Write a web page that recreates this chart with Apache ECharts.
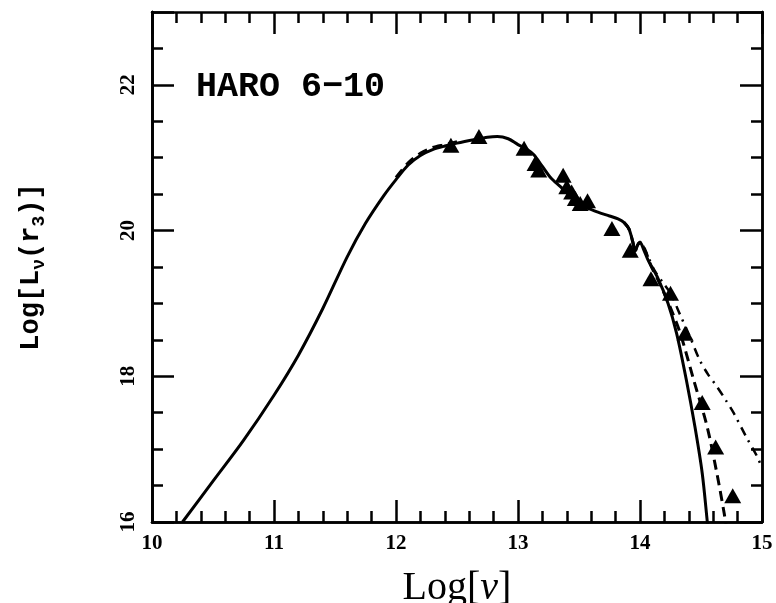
<!DOCTYPE html>
<html>
<head>
<meta charset="utf-8">
<script src="https://cdn.jsdelivr.net/npm/echarts@6/dist/echarts.min.js"></script>
<style>html,body{margin:0;padding:0;background:#fff}#c{width:776px;height:603px}</style>
</head>
<body>
<div id="c"></div>
<script>
// tick labels
var xTicks = [10, 11, 12, 13, 14, 15];
var yTicks = [16, 18, 20, 22];

// Solid model curve [log nu, log L]
var solidCurve = [
  [10.25,16.0],[10.5,16.56],[10.75,17.12],[11.0,17.74],[11.2,18.29],[11.4,18.93],
  [11.6,19.64],[11.75,20.10],[11.9,20.48],[12.0,20.70],[12.1,20.90],[12.2,21.03],
  [12.3,21.11],[12.4,21.16],[12.5,21.20],[12.65,21.25],[12.75,21.28],[12.83,21.29],
  [12.92,21.26],[13.0,21.18],[13.07,21.12],[13.13,21.04],[13.2,20.88],[13.27,20.72],
  [13.35,20.60],[13.43,20.47],[13.5,20.37],[13.58,20.30],[13.66,20.25],[13.75,20.20],
  [13.82,20.16],[13.87,20.11],[13.91,20.02],[13.94,19.85],[13.96,19.72],[13.98,19.80],
  [14.0,19.84],[14.03,19.74],[14.07,19.58],[14.14,19.37],[14.23,19.0],[14.30,18.59],
  [14.38,17.95],[14.45,17.31],[14.51,16.67],[14.55,16.03],[14.56,15.85]
];

// Dashed model curve (two visible stretches)
var dashedCurveA = [
  [12.0,20.73],[12.1,20.93],[12.2,21.06],[12.3,21.14],[12.4,21.18],[12.5,21.22]
];
var dashedCurveB = [
  [13.87,20.11],[13.91,20.02],[13.94,19.85],[13.96,19.72],[13.98,19.80],[14.0,19.84],
  [14.04,19.74],[14.09,19.52],[14.16,19.28],[14.24,18.98],[14.33,18.59],[14.44,17.95],
  [14.55,17.31],[14.63,16.67],[14.69,16.12],[14.71,15.90]
];

// Dash-dot model curve
var dashDotCurve = [
  [13.87,20.11],[13.91,20.02],[13.94,19.85],[13.96,19.72],[13.98,19.80],[14.0,19.84],
  [14.05,19.70],[14.12,19.45],[14.19,19.28],[14.25,19.14],[14.33,18.84],[14.41,18.54],
  [14.49,18.22],[14.56,18.02],[14.63,17.86],[14.70,17.68],[14.77,17.49],[14.87,17.17],
  [14.96,16.90],[15.0,16.74]
];

// Observed photometry (triangles)
var observed = [
  [12.45,21.17],[12.68,21.29],[13.05,21.13],[13.14,20.92],[13.17,20.83],[13.37,20.76],
  [13.40,20.60],[13.44,20.53],[13.47,20.44],[13.51,20.37],[13.57,20.41],[13.77,20.03],
  [13.92,19.73],[14.09,19.34],[14.25,19.14],[14.37,18.59],[14.51,17.64],[14.62,17.03],[14.76,16.36]
];

var SERIF = 'Liberation Serif';
var MONO = 'Liberation Mono';
var tickStyle = {color: '#000', width: 2.5};
var axLine = {show: true, onZero: false, lineStyle: {color: '#000', width: 2.5}};

function xTickAx(pos) {
  return {
    type: 'value', position: pos, min: xTicks[0], max: xTicks[xTicks.length - 1], interval: 1,
    axisLine: axLine,
    axisTick: {show: true, inside: true, length: 22, lineStyle: tickStyle},
    minorTick: {show: true, splitNumber: 5, length: 11, lineStyle: tickStyle},
    splitLine: {show: false}, minorSplitLine: {show: false},
    axisLabel: {show: false}
  };
}
function yTickAx(pos, interval, len) {
  return {
    type: 'value', position: pos, min: 16, max: 23, interval: interval,
    axisLine: axLine,
    axisTick: {show: true, inside: true, length: len, lineStyle: tickStyle},
    splitLine: {show: false},
    axisLabel: {show: false}
  };
}

var xLabelAxis = {
  type: 'value', position: 'bottom', min: xTicks[0], max: xTicks[xTicks.length - 1], interval: 1,
  axisLine: axLine, axisTick: {show: false}, splitLine: {show: false},
  axisLabel: {show: true, margin: 11, color: '#000', fontFamily: SERIF, fontWeight: 'bold', fontSize: 21},
  name: '{a|Log[}{i|ν}{a|]}',
  nameLocation: 'middle', nameGap: 46,
  nameTextStyle: {rich: {
    a: {fontFamily: SERIF, fontSize: 40, color: '#000'},
    i: {fontFamily: SERIF, fontSize: 40, fontStyle: 'italic', color: '#000'}
  }}
};
var yLabelAxis = {
  type: 'value', position: 'left', min: 16, max: 23, interval: 2,
  axisLine: axLine, axisTick: {show: false}, splitLine: {show: false},
  axisLabel: {
    show: true, rotate: 90, margin: 13, color: '#000', fontFamily: SERIF, fontWeight: 'bold', fontSize: 21,
    formatter: function (v) { return yTicks.indexOf(v) >= 0 ? String(v) : ''; }
  },
  name: '{a|Log[L}{s|ν}{a|(r}{s|3}{a|)]}',
  nameLocation: 'middle', nameRotate: 90, nameGap: 104,
  nameTextStyle: {rich: {
    a: {fontFamily: MONO, fontWeight: 'bold', fontSize: 27, color: '#000', lineHeight: 34, verticalAlign: 'middle'},
    s: {fontFamily: MONO, fontWeight: 'bold', fontSize: 18, color: '#000', lineHeight: 18, verticalAlign: 'bottom'}
  }}
};

var chart = echarts.init(document.getElementById('c'));
chart.setOption({
  backgroundColor: '#fff',
  animation: false,
  grid: {left: 152, top: 12, width: 610, height: 510, containLabel: false, outerBoundsMode: 'none'},
  xAxis: [xLabelAxis, xTickAx('bottom'), xTickAx('top')],
  yAxis: [yLabelAxis, yTickAx('left', 2, 22), yTickAx('left', 0.5, 11), yTickAx('right', 2, 22), yTickAx('right', 0.5, 11)],
  graphic: [{
    type: 'text', left: 196, top: 70,
    style: {text: 'HARO 6\u221210', fontFamily: MONO, fontWeight: 'bold', fontSize: 35, fill: '#000'}
  }],
  series: [
    {type: 'line', data: solidCurve, showSymbol: false, smooth: 0.3, clip: true,
     lineStyle: {color: '#000', width: 3}},
    {type: 'line', data: dashedCurveA, showSymbol: false, smooth: 0.3, clip: true,
     lineStyle: {color: '#000', width: 3, type: [10, 6]}},
    {type: 'line', data: dashedCurveB, showSymbol: false, smooth: 0.3, clip: true,
     lineStyle: {color: '#000', width: 3, type: [10, 6]}},
    {type: 'line', data: dashDotCurve, showSymbol: false, smooth: 0.3, clip: true,
     lineStyle: {color: '#000', width: 2.5, type: [9, 6, 2, 6]}},
    {type: 'scatter', data: observed, symbol: 'triangle', symbolSize: [17, 15],
     itemStyle: {color: '#000', opacity: 1}, z: 5}
  ]
});
</script>
</body>
</html>
